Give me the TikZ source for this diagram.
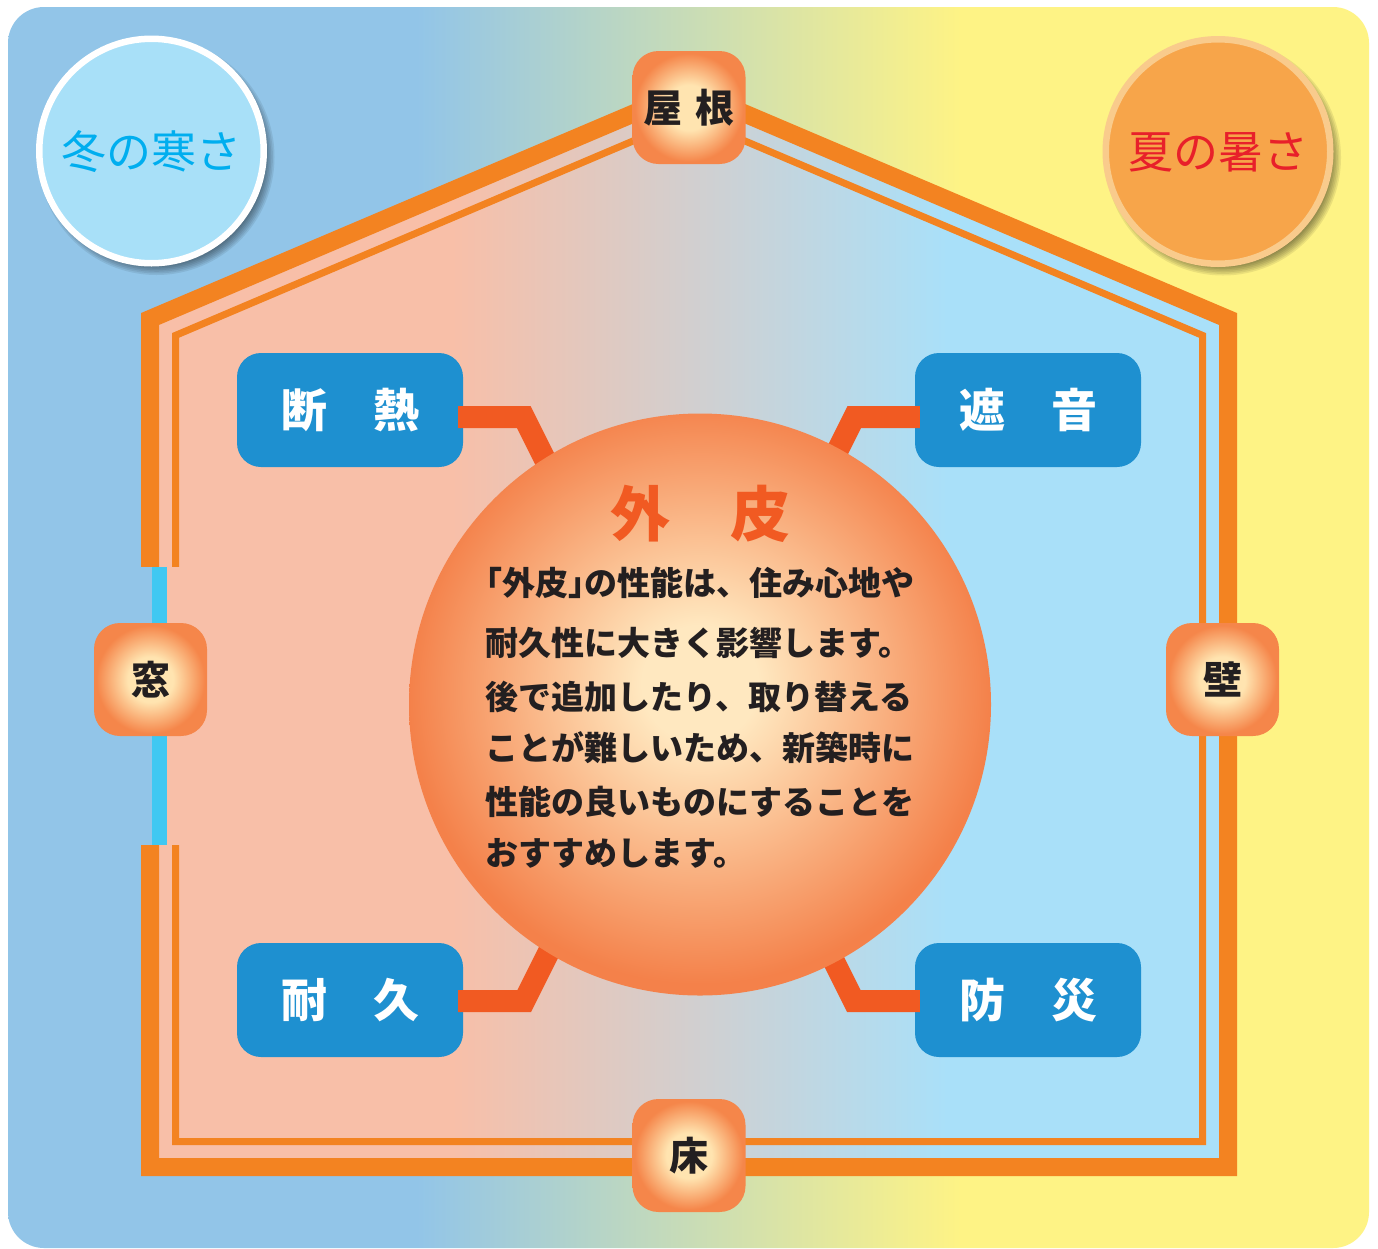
\documentclass[tikz,border=0pt]{standalone}
\usepackage{fontspec}
\newfontfamily\jp{Noto Sans CJK JP}
\definecolor{bgblue}{HTML}{92C5E8}
\definecolor{bgyellow}{HTML}{FEF385}
\definecolor{inpink}{HTML}{F8BFA8}
\definecolor{inblue}{HTML}{A9E0F9}
\definecolor{houseor}{HTML}{F38321}
\definecolor{conn}{HTML}{F15A22}
\definecolor{boxblue}{HTML}{1E90D0}
\definecolor{wincyan}{HTML}{40C8F2}
\definecolor{glowin}{HTML}{FFE4B0}
\definecolor{glowout}{HTML}{F5864A}
\definecolor{bigin}{HTML}{FFE8C0}
\definecolor{bigout}{HTML}{F4814A}
\definecolor{coldfill}{HTML}{A8E0F8}
\definecolor{coldtext}{HTML}{00AEEF}
\definecolor{hotfill}{HTML}{F7A54A}
\definecolor{hotring}{HTML}{F9CB8C}
\definecolor{hottext}{HTML}{E8202A}
\definecolor{ink}{HTML}{231F20}
\pgfdeclarehorizontalshading{bgshade}{100bp}{color(0bp)=(bgblue); color(40bp)=(bgblue); color(60bp)=(bgyellow); color(100bp)=(bgyellow)}
\pgfdeclarehorizontalshading{inshade}{100bp}{color(0bp)=(inpink); color(39bp)=(inpink); color(62bp)=(inblue); color(100bp)=(inblue)}
\pgfdeclareradialshading{smallglow}{\pgfpoint{0bp}{0bp}}{color(0bp)=(glowin); color(10bp)=(glowin); color(24bp)=(glowout); color(50bp)=(glowout)}
\pgfdeclareradialshading{bigglow}{\pgfpoint{0bp}{2bp}}{color(0bp)=(bigin); color(5bp)=(bigin); color(25bp)=(bigout); color(50bp)=(bigout)}
\tikzset{
  bluebox/.style={fill=boxblue, rounded corners=24pt, minimum width=226pt, minimum height=114pt, inner sep=0pt,
    text=white, font=\jp\bfseries\fontsize{46pt}{46pt}\selectfont, text height=40.5pt, text depth=5.5pt},
  glownode/.style={shade, shading=smallglow, rounded corners=26pt, minimum size=113pt, inner sep=0pt,
    text=ink, font=\jp\bfseries\fontsize{39pt}{39pt}\selectfont, text height=34.3pt, text depth=4.7pt},
  seasoncircle/.style={circle, minimum size=224.5pt, line width=6.5pt, inner sep=0pt,
    font=\jp\fontsize{45pt}{45pt}\selectfont, text height=39.6pt, text depth=5.4pt},
  connector/.style={conn, line width=22pt, line join=miter},
  bodyline/.style={anchor=base west, inner sep=0pt, text=ink, font=\jp\bfseries\fontsize{33pt}{33pt}\selectfont}
}
\begin{document}
\begin{tikzpicture}[x=1pt, y=-1pt]
\fill[white] (0,0) rectangle (1378,1248);
\useasboundingbox (0,0) rectangle (1378,1248);
% background
\shade[shading=bgshade, rounded corners=36pt] (8,7) rectangle (1369,1248);
% house interior
\shade[shading=inshade] (150,1167) -- (150,319) -- (689,89.9) -- (1228,319) -- (1228,1167) -- cycle;
% thick band
\draw[houseor, line width=18pt, line join=miter] (150,1167) -- (150,319) -- (689,89.9) -- (1228,319) -- (1228,1167) -- cycle;
% thin line
\draw[houseor, line width=7pt, line join=miter] (175.5,1141.5) -- (175.5,335.4) -- (689,117.2) -- (1202.5,335.4) -- (1202.5,1141.5) -- cycle;
% window opening
\fill[bgblue] (136,567) rectangle (152,845);
\fill[wincyan] (152,567) rectangle (167,845);
\fill[inpink] (167,567) rectangle (183,845);
% season circles with shadows
\foreach \k in {0,...,7}{
  \fill[black, opacity=0.08] (156.5,157) circle ({118pt-\k*1.6pt});
  \fill[black, opacity=0.08] (1223,157.5) circle ({118pt-\k*1.6pt});
}
\node[seasoncircle, draw=white, fill=coldfill, text=coldtext] (winter) at (151.5,151) {冬の寒さ};
\node[seasoncircle, draw=hotring, fill=hotfill, text=hottext] (summer) at (1218,151.5) {夏の暑さ};
% boxes
\node[bluebox] (heat) at (350,410) {断　熱};
\node[bluebox] (sound) at (1028,410) {遮　音};
\node[bluebox] (dura) at (350,1000) {耐　久};
\node[bluebox] (disa) at (1028,1000) {防　災};
% connectors
\draw[connector] ([xshift=-5pt,yshift=-7pt]heat.east) -- ++(65.5,0) -- ++(50,100);
\draw[connector] ([xshift=5pt,yshift=-7pt]sound.west) -- ++(-65.5,0) -- ++(-50,100);
\draw[connector] ([xshift=-5pt,yshift=-1pt]dura.east) -- ++(66,0) -- ++(50,-100);
\draw[connector] ([xshift=5pt,yshift=-1pt]disa.west) -- ++(-66,0) -- ++(-50,-100);
% central circle
\node[circle, minimum size=582pt, inner sep=0pt, shade, shading=bigglow] (skin) at (700,704.5) {};
\node[anchor=base, inner sep=0pt, text=conn, font=\jp\bfseries\fontsize{60pt}{60pt}\selectfont] (title) at (700,536.3) {外　皮};
\node[bodyline] (l1) at (485.4,595.5) {\makebox[0.5em][r]{「}外皮\makebox[0.5em][l]{」}の性能は、住み心地や};
\node[bodyline] (l2) at (485.4,655.5) {耐久性に大きく影響します。};
\node[bodyline] (l3) at (485.4,709.5) {後で追加したり、取り替える};
\node[bodyline] (l4) at (485.4,760.5) {ことが難しいため、新築時に};
\node[bodyline] (l5) at (485.4,814.5) {性能の良いものにすることを};
\node[bodyline] (l6) at (485.4,865.5) {おすすめします。};
% small glow nodes
\node[glownode] (roof) at (689,107.5) {屋\hspace{13pt}根};
\node[glownode] (window) at (150.5,679.5) {窓};
\node[glownode] (wall) at (1222.5,679.5) {壁};
\node[glownode] (floor) at (689,1155.5) {床};
\end{tikzpicture}
\end{document}
